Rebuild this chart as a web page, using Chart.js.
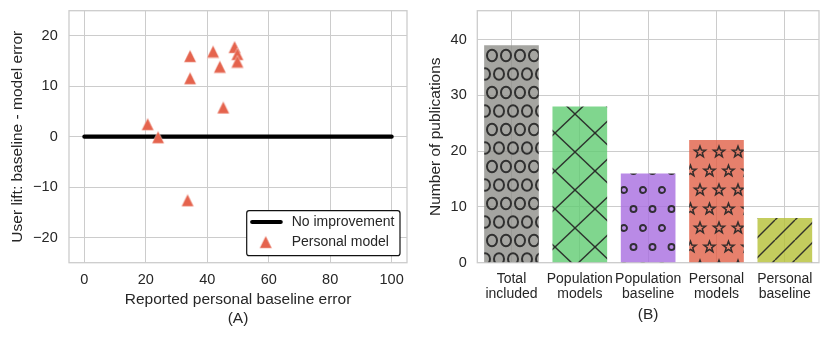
<!DOCTYPE html>
<html><head><meta charset="utf-8">
<script src="https://cdn.jsdelivr.net/npm/chart.js@4.4.1/dist/chart.umd.min.js"></script>
<style>
html,body{margin:0;padding:0;background:#fff;}
#wrap{position:relative;width:830px;height:337px;overflow:hidden;}
#c1{position:absolute;left:0;top:0;}
#c2{position:absolute;left:415px;top:0;}
</style></head><body>
<div id="wrap"><canvas id="c1" width="415" height="337"></canvas><canvas id="c2" width="415" height="337"></canvas></div>
<script>
// ---- data ----
const personalX = [34.4, 34.4, 41.9, 44.1, 48.9, 49.8, 49.8, 45.2, 20.6, 24.0, 33.6];
const personalY = [16.0, 11.6, 16.9, 13.9, 17.8, 16.4, 14.9, 5.8, 2.5, -0.1, -12.6];
const noImproveX = [0, 100];
const noImproveY = [0, 0];
const seriesNames = ['No improvement', 'Personal model'];
const xTicksA = [0, 20, 40, 60, 80, 100];
const yTicksA = [-20, -10, 0, 10, 20];
const barLabels = [['Total', 'included'], ['Population', 'models'], ['Population', 'baseline'], ['Personal', 'models'], ['Personal', 'baseline']];
const barValues = [39, 28, 16, 22, 8];
const yTicksB = [0, 10, 20, 30, 40];
const titleA = ['Reported personal baseline error', '(A)'];
const titleAY = 'User lift: baseline - model error';
const titleB = '(B)';
const titleBY = 'Number of publications';

// ---- style ----
const FONT = "'Liberation Sans', Arial, Helvetica, sans-serif";
const TXT = '#262626';
const GRID = '#cccccc';
const TRI = '#e5634d';
const TICK = 14.5, TITLE = 15.5;
Chart.defaults.font.family = FONT;
Chart.defaults.font.size = 14;
Chart.defaults.color = TXT;

function minus(v) { return String(v).replace('-', '\u2212'); }
function fixTicks(vals) { return s => { s.ticks = vals.map(v => ({ value: v })); }; }
function fitH(h) { return s => { s.height = h; s.paddingLeft = 0; s.paddingRight = 0; s.paddingTop = 0; s.paddingBottom = 0; }; }
function fitW(w) { return s => { s.width = w; s.paddingLeft = 0; s.paddingRight = 0; s.paddingTop = 0; s.paddingBottom = 0; }; }

// triangle marker image (bbox-centred like matplotlib '^')
function triImage() {
  const c = document.createElement('canvas'); c.width = 14; c.height = 14;
  const g = c.getContext('2d');
  g.beginPath(); g.moveTo(7, 0.8); g.lineTo(0.8, 13.2); g.lineTo(13.2, 13.2); g.closePath();
  g.fillStyle = TRI; g.fill();
  g.strokeStyle = 'rgba(255,255,255,0.7)'; g.lineWidth = 0.6; g.stroke();
  return c;
}
const triImg = triImage();

const frame = {
  id: 'frame',
  beforeDatasetsDraw(chart) {
    const a = chart.chartArea, ctx = chart.ctx;
    ctx.save(); ctx.strokeStyle = GRID; ctx.lineWidth = 1.3;
    ctx.strokeRect(a.left, a.top, a.right - a.left, a.bottom - a.top);
    ctx.restore();
  }
};

const legendBox = {
  id: 'legendBox',
  afterDraw(chart) {
    const a = chart.chartArea, ctx = chart.ctx;
    const w = 153.3, h = 45;
    const x0 = a.right - 7 - w, y0 = a.bottom - 7 - h;
    ctx.save();
    ctx.beginPath();
    if (ctx.roundRect) ctx.roundRect(x0, y0, w, h, 2.5); else ctx.rect(x0, y0, w, h);
    ctx.fillStyle = '#ffffff'; ctx.fill();
    ctx.strokeStyle = '#111'; ctx.lineWidth = 1.2; ctx.stroke();
    ctx.beginPath(); ctx.moveTo(x0 + 5.5, y0 + 11.3); ctx.lineTo(x0 + 34, y0 + 11.3);
    ctx.strokeStyle = '#000'; ctx.lineWidth = 4.2; ctx.lineCap = 'round'; ctx.stroke();
    ctx.drawImage(triImg, x0 + 19 - 7, y0 + 31.3 - 7);
    ctx.fillStyle = TXT; ctx.font = '14px ' + FONT; ctx.textBaseline = 'middle'; ctx.textAlign = 'left';
    ctx.fillText(seriesNames[0], x0 + 45, y0 + 11.3);
    ctx.fillText(seriesNames[1], x0 + 45, y0 + 31.3);
    ctx.restore();
  }
};

// ---- chart A ----
new Chart(document.getElementById('c1'), {
  type: 'scatter',
  data: {
    datasets: [
      {
        label: seriesNames[1],
        data: personalX.map((x, i) => ({ x: x, y: personalY[i] })),
        pointStyle: triImg,
        pointRadius: 7,
        order: 1
      },
      {
        label: seriesNames[0],
        data: noImproveX.map((x, i) => ({ x: x, y: noImproveY[i] })),
        showLine: true,
        borderColor: '#000',
        borderWidth: 4.2,
        borderCapStyle: 'round',
        pointRadius: 0,
        order: 2
      }
    ]
  },
  options: {
    responsive: false, animation: false, devicePixelRatio: 1,
    layout: { padding: { left: 0, top: 10.7, right: 4.3, bottom: 0 } },
    plugins: { legend: { display: false }, tooltip: { enabled: false } },
    scales: {
      x: {
        type: 'linear', min: -5, max: 105,
        afterBuildTicks: fixTicks(xTicksA),
        ticks: { padding: 8.6, color: TXT, font: { size: TICK } },
        grid: { color: GRID, lineWidth: 1, drawTicks: false },
        border: { display: false },
        title: { display: true, text: titleA, color: TXT, font: { size: TITLE, lineHeight: 1.18 }, padding: { top: 0, bottom: 9.6 } },
        afterFit: fitH(74.3)
      },
      y: {
        type: 'linear', min: -25, max: 25,
        afterBuildTicks: fixTicks(yTicksA),
        ticks: { padding: 11.3, color: TXT, font: { size: TICK }, callback: v => minus(v) },
        grid: { color: GRID, lineWidth: 1, drawTicks: false },
        border: { display: false },
        title: { display: true, text: titleAY, color: TXT, font: { size: TITLE, lineHeight: 1.2 }, padding: { top: 8.7, bottom: 0 } },
        afterFit: fitW(69)
      }
    }
  },
  plugins: [frame, legendBox]
});

// ---- chart B ----
const c2 = document.getElementById('c2');
const c2ctx = c2.getContext('2d');
const HATCH = 'rgba(38,38,38,0.92)';

function tile(w, h, bg, draw) {
  const c = document.createElement('canvas'); c.width = w; c.height = h;
  const g = c.getContext('2d');
  g.fillStyle = bg; g.fillRect(0, 0, w, h);
  g.strokeStyle = HATCH;
  draw(g, w, h);
  return c2ctx.createPattern(c, 'repeat');
}
function wrapEach(w, h, pts, fn) {
  for (const [px, py] of pts)
    for (const dx of [-w, 0, w])
      for (const dy of [-h, 0, h]) fn(px + dx, py + dy);
}
function star(g, x, y, R, r) {
  g.beginPath();
  for (let i = 0; i < 10; i++) {
    const ang = -Math.PI / 2 + i * Math.PI / 5;
    const rr = i % 2 === 0 ? R : r;
    const px = x + Math.cos(ang) * rr, py = y + Math.sin(ang) * rr;
    if (i === 0) g.moveTo(px, py); else g.lineTo(px, py);
  }
  g.closePath(); g.stroke();
}

const patGray = tile(14, 37, 'rgba(143,143,138,0.8)', (g, w, h) => {
  g.lineWidth = 2;
  wrapEach(w, h, [[0, 0], [7, 18.5]], (x, y) => { g.beginPath(); g.ellipse(x, y, 5, 5.8, 0, 0, Math.PI * 2); g.stroke(); });
});
const patGreen = tile(40, 38, 'rgba(96,204,114,0.8)', (g, w, h) => {
  g.lineWidth = 1.4;
  for (const dx of [-w, 0, w]) {
    g.beginPath(); g.moveTo(dx, 0); g.lineTo(dx + w, h); g.stroke();
    g.beginPath(); g.moveTo(dx + w, 0); g.lineTo(dx, h); g.stroke();
  }
});
const patPurple = tile(19, 38, 'rgba(167,109,224,0.8)', (g, w, h) => {
  g.lineWidth = 1.9;
  wrapEach(w, h, [[0, 0], [9.5, 19]], (x, y) => { g.beginPath(); g.arc(x, y, 3, 0, Math.PI * 2); g.stroke(); });
});
const patRed = tile(19, 38, 'rgba(225,96,71,0.8)', (g, w, h) => {
  g.lineWidth = 1.5; g.lineJoin = 'miter';
  wrapEach(w, h, [[0, 0], [9.5, 19]], (x, y) => star(g, x, y, 5.8, 2.4));
});
const patOlive = tile(20, 20, 'rgba(181,192,54,0.8)', (g, w, h) => {
  g.lineWidth = 1.4;
  for (const d of [-w, 0, w]) { g.beginPath(); g.moveTo(d, h); g.lineTo(d + w, 0); g.stroke(); }
});

new Chart(c2, {
  type: 'bar',
  data: {
    labels: barLabels,
    datasets: [{
      data: barValues,
      backgroundColor: [patGray, patGreen, patPurple, patRed, patOlive],
      borderWidth: 0,
      barPercentage: 0.8,
      categoryPercentage: 1.0
    }]
  },
  options: {
    responsive: false, animation: false, devicePixelRatio: 1,
    layout: { padding: { left: 0, top: 10.7, right: 11, bottom: 0 } },
    plugins: { legend: { display: false }, tooltip: { enabled: false } },
    scales: {
      x: {
        ticks: { padding: 9.3, color: TXT, font: { size: 14, lineHeight: 1.05 }, maxRotation: 0, autoSkip: false },
        grid: { color: GRID, lineWidth: 1, drawTicks: false, offset: false },
        border: { display: false },
        title: { display: true, text: titleB, color: TXT, font: { size: TITLE, lineHeight: 1.2 }, padding: { top: 0, bottom: 12.7 } },
        afterFit: fitH(74.3)
      },
      y: {
        min: 0, max: 45.2,
        afterBuildTicks: fixTicks(yTicksB),
        ticks: { padding: 10.6, color: TXT, font: { size: TICK } },
        grid: { color: GRID, lineWidth: 1, drawTicks: false },
        border: { display: false },
        title: { display: true, text: titleBY, color: TXT, font: { size: TITLE, lineHeight: 1.2 }, padding: { top: 11.4, bottom: 0 } },
        afterFit: fitW(62.3)
      }
    }
  },
  plugins: [frame]
});
</script>
</body></html>
